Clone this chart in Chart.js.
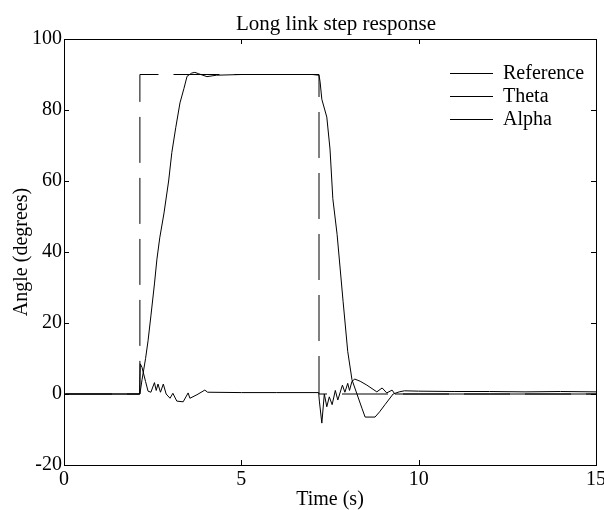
<!DOCTYPE html>
<html>
<head>
<meta charset="utf-8">
<script src="https://cdn.jsdelivr.net/npm/chart.js@4/dist/chart.umd.min.js"></script>
<style>
  html, body { margin: 0; padding: 0; background: #fff; }
  #wrap { width: 604px; height: 510px; }
</style>
</head>
<body>
<div id="wrap"><canvas id="c" width="604" height="510"></canvas></div>
<script>
// Reference command (deg)
const refTime  = [0, 2.14, 2.14, 7.19, 7.19, 15];
const refAngle = [0, 0, 90, 90, 0, 0];

// Long link angle, theta (deg)
const thetaTime  = [0, 2.14, 2.2, 2.25, 2.3, 2.37, 2.45, 2.55, 2.62, 2.7, 2.82, 2.95, 3.04, 3.15, 3.27, 3.38, 3.47, 3.6, 3.69, 3.8, 4.03, 4.3, 5.0, 6.0, 7.0, 7.19, 7.22, 7.27, 7.41, 7.5, 7.58, 7.7, 7.87, 8.0, 8.12, 8.26, 8.4, 8.49, 8.77, 8.9, 9.05, 9.28, 9.45, 9.6, 10, 11, 12, 13, 14, 15];
const thetaAngle = [0, 0, 4, 7, 10, 15, 22, 31, 38, 44, 51, 60, 68, 75, 82, 86, 89.5, 90.4, 90.6, 90.2, 89.4, 89.8, 90, 90, 90, 89.8, 88, 83, 78, 69, 55, 45, 26, 12, 4, 0, -4, -6.5, -6.5, -5, -3, 0, 0.6, 0.9, 0.8, 0.7, 0.7, 0.6, 0.7, 0.6];

// Pendulum angle, alpha (deg)
const alphaTime  = [0, 2.13, 2.15, 2.2, 2.3, 2.37, 2.45, 2.55, 2.6, 2.65, 2.72, 2.8, 2.88, 2.99, 3.07, 3.18, 3.36, 3.5, 3.55, 3.75, 3.97, 4.05, 5, 6, 7.18, 7.2, 7.27, 7.34, 7.41, 7.48, 7.56, 7.65, 7.72, 7.85, 7.92, 8.0, 8.05, 8.12, 8.2, 8.35, 8.54, 8.82, 8.97, 9.1, 9.25, 9.33, 10, 12, 15];
const alphaAngle = [0, 0, 8.5, 7.5, 3.5, 0.8, 0.5, 3.2, 1, 2.8, 0.5, 2.8, 0, -1.2, 0.2, -2, -2.2, 0.3, -1.2, -0.2, 1.1, 0.5, 0.4, 0.4, 0.4, -2, -8.2, 0, -3.6, -0.8, -3, 1, -1.7, 2.5, 0.5, 3, 1, 3.6, 4.2, 3.6, 2.5, 0.6, 1.7, 0.3, 1.1, 0, 0, 0, 0];

// Axis ticks
const xTicks = [0, 5, 10, 15];
const yTicks = [-20, 0, 20, 40, 60, 80, 100];

const chartTitle = 'Long link step response';

const toPoints = (xs, ys) => xs.map((x, i) => ({ x: x, y: ys[i] }));

const FONT = "'Liberation Serif', 'Times New Roman', serif";

// Box around the plot area, inward tick marks on all four sides, title and legend
const framePlugin = {
  id: 'frame',
  afterDatasetsDraw(chart) {
    const { ctx, chartArea: a, scales } = chart;
    const tl = 5;
    ctx.save();
    ctx.strokeStyle = '#000';
    ctx.lineWidth = 1;
    ctx.setLineDash([]);
    ctx.strokeRect(Math.round(a.left) + 0.5, Math.round(a.top) + 0.5,
                   Math.round(a.right - a.left), Math.round(a.bottom - a.top));
    ctx.beginPath();
    xTicks.forEach(v => {
      const px = Math.round(scales.x.getPixelForValue(v)) + 0.5;
      ctx.moveTo(px, a.bottom); ctx.lineTo(px, a.bottom - tl);
      ctx.moveTo(px, a.top); ctx.lineTo(px, a.top + tl);
    });
    yTicks.forEach(v => {
      const py = Math.round(scales.y.getPixelForValue(v)) + 0.5;
      ctx.moveTo(a.left, py); ctx.lineTo(a.left + tl, py);
      ctx.moveTo(a.right, py); ctx.lineTo(a.right - tl, py);
    });
    ctx.stroke();

    ctx.fillStyle = '#000';

    // title above the plot box
    ctx.font = '21px ' + FONT;
    ctx.textAlign = 'center';
    ctx.textBaseline = 'alphabetic';
    ctx.fillText(chartTitle, (a.left + a.right) / 2 + 6, a.top - 9);

    // legend: short sample line followed by the series name
    ctx.font = '20px ' + FONT;
    ctx.textBaseline = 'middle';
    ctx.textAlign = 'left';
    const x0 = a.right - 146, x1 = a.right - 103, xt = a.right - 93;
    chart.data.datasets.forEach((ds, i) => {
      const y = Math.round(a.top + 34 + i * 23) + 0.5;
      ctx.beginPath();
      ctx.moveTo(x0, y); ctx.lineTo(x1, y);
      ctx.stroke();
      ctx.fillText(ds.label, xt, y);
    });
    ctx.restore();
  }
};

const lineStyle = { borderColor: '#000', borderWidth: 1, pointRadius: 0, tension: 0, fill: false };

new Chart(document.getElementById('c'), {
  type: 'line',
  data: {
    datasets: [
      Object.assign({ label: 'Reference', data: toPoints(refTime, refAngle),
                      borderDash: [46, 15], borderDashOffset: 59 }, lineStyle),
      Object.assign({ label: 'Theta', data: toPoints(thetaTime, thetaAngle) }, lineStyle),
      Object.assign({ label: 'Alpha', data: toPoints(alphaTime, alphaAngle) }, lineStyle)
    ]
  },
  options: {
    responsive: false,
    animation: false,
    layout: { padding: { left: 0, right: 8, top: 39, bottom: 0 } },
    plugins: {
      legend: { display: false },
      tooltip: { enabled: false },
      title: { display: false }
    },
    scales: {
      x: {
        type: 'linear',
        min: 0, max: 15,
        grid: { display: false, drawTicks: false },
        border: { display: false },
        afterBuildTicks(s) { s.ticks = xTicks.map(v => ({ value: v })); },
        afterFit(s) { s.height = 45; s.paddingLeft = 0; s.paddingRight = 0; },
        ticks: { color: '#000', padding: 3, maxRotation: 0, autoSkip: false,
                 font: { family: FONT, size: 20 } },
        title: { display: true, text: 'Time (s)', color: '#000',
                 font: { family: FONT, size: 20, lineHeight: 1.0 },
                 padding: { top: 0, bottom: 0 } }
      },
      y: {
        type: 'linear',
        min: -20, max: 100,
        grid: { display: false, drawTicks: false },
        border: { display: false },
        afterBuildTicks(s) { s.ticks = yTicks.map(v => ({ value: v })); },
        afterFit(s) { s.width = 64; s.paddingTop = 0; s.paddingBottom = 0; },
        ticks: { color: '#000', padding: 2, autoSkip: false,
                 font: { family: FONT, size: 20 } },
        title: { display: true, text: 'Angle (degrees)', color: '#000',
                 font: { family: FONT, size: 20, lineHeight: 1.2 },
                 padding: { top: 10, bottom: 0 } }
      }
    }
  },
  plugins: [framePlugin]
});
</script>
</body>
</html>
